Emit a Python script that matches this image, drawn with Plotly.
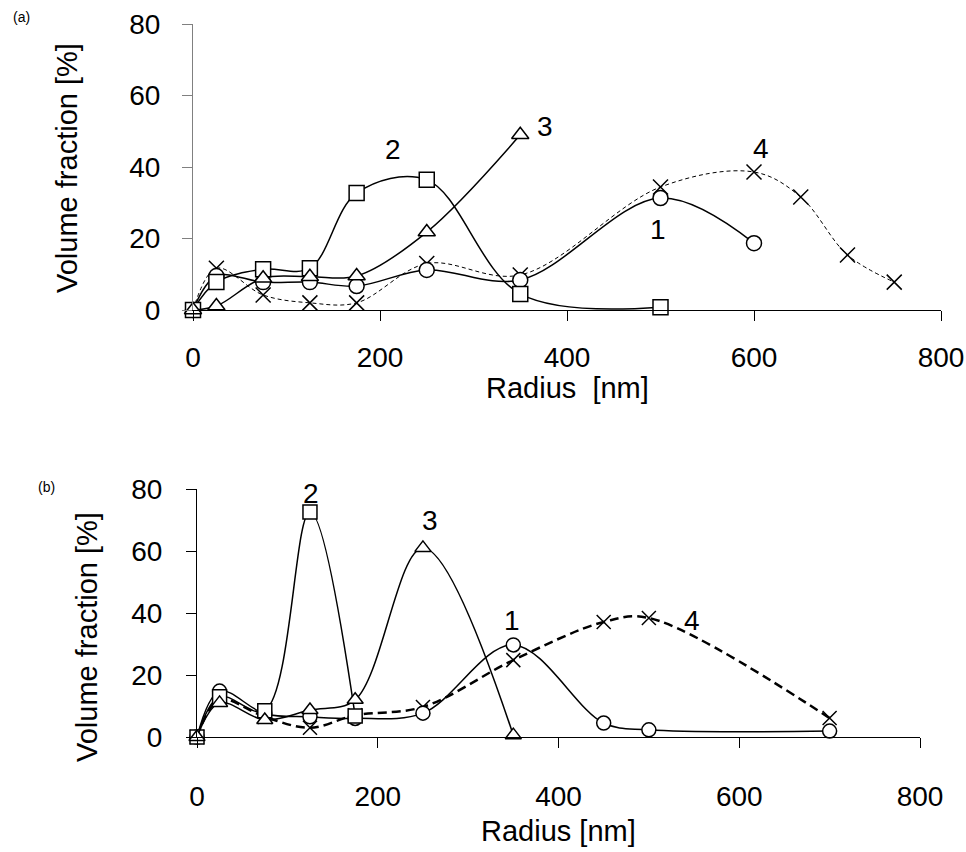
import plotly.graph_objects as go

# ---------------- Panel (a) data ----------------
a1_x = [0, 25, 75, 125, 175, 250, 350, 500, 600]
a1_y = [0, 9.5, 7.8, 7.8, 6.7, 11.2, 8.4, 31.3, 18.7]

a2_x = [0, 25, 75, 125, 175, 250, 350, 500]
a2_y = [0, 7.8, 11.4, 11.7, 32.7, 36.4, 4.5, 0.8]

a3_x = [0, 25, 75, 125, 175, 250, 350]
a3_y = [0, 1.1, 8.9, 9.3, 9.5, 21.8, 49.0]

a4_x = [0, 25, 75, 125, 175, 250, 350, 500, 600, 650, 700, 750]
a4_y = [0, 11.7, 4.2, 2.0, 2.0, 13.0, 9.8, 34.4, 38.6, 31.6, 15.4, 7.8]

# ---------------- Panel (b) data ----------------
b1_x = [0, 25, 75, 125, 175, 250, 350, 450, 500, 700]
b1_y = [0, 14.8, 7.5, 6.5, 6.0, 7.7, 29.7, 4.5, 2.3, 1.9]

b2_x = [0, 25, 75, 125, 175]
b2_y = [0, 13.0, 8.5, 72.6, 6.8]

b3_x = [0, 25, 75, 125, 175, 250, 350]
b3_y = [0, 11.0, 5.5, 8.7, 12.0, 61.0, 0.6]

b4_x = [0, 25, 75, 125, 175, 250, 350, 450, 500, 700]
b4_y = [0, 12.0, 6.5, 3.0, 7.0, 9.7, 24.8, 37.1, 38.4, 6.1]

x_ticks = [0, 200, 400, 600, 800]
y_ticks = [0, 20, 40, 60, 80]

# curve labels (text, x, y)
a_labels = [("1", 497, 22.4), ("2", 214, 44.8), ("3", 376, 51.2), ("4", 608, 45.3)]
b_labels = [("1", 348, 37.7), ("2", 126, 78.7), ("3", 258, 70.0), ("4", 548, 37.7)]

FONT = "Liberation Sans, Arial, sans-serif"
W, H = 966, 852

fig = go.Figure()


def add_series(x, y, symbol, xa, ya, dash="solid", lw=1.5, msize=14, mlw=1.5):
    if symbol == "x-thin":
        marker = dict(symbol=symbol, size=msize, color="black",
                      line=dict(color="black", width=mlw))
    else:
        marker = dict(symbol=symbol, size=msize, color="white",
                      line=dict(color="black", width=mlw))
    fig.add_trace(go.Scatter(
        x=x, y=y, mode="lines+markers", xaxis=xa, yaxis=ya,
        line=dict(color="black", width=lw, shape="spline", smoothing=1.0, dash=dash),
        marker=marker, cliponaxis=False, showlegend=False, hoverinfo="skip"))


# Panel (a)
add_series(a4_x, a4_y, "x-thin", "x", "y", dash="4px,3px", lw=1.0, msize=15)
add_series(a1_x, a1_y, "circle", "x", "y", msize=15)
add_series(a2_x, a2_y, "square", "x", "y", msize=15)
add_series(a3_x, a3_y, "triangle-up", "x", "y", msize=15)

# Panel (b)
add_series(b4_x, b4_y, "x-thin", "x2", "y2", dash="9px,5px", lw=2.5, msize=14)
add_series(b1_x, b1_y, "circle", "x2", "y2", msize=14)
add_series(b2_x, b2_y, "square", "x2", "y2", msize=14)
add_series(b3_x, b3_y, "triangle-up", "x2", "y2", msize=14)

tickfont = dict(family=FONT, size=28, color="black")


def xax(domain, anchor, standoff):
    return dict(domain=domain, anchor=anchor, range=[0, 800], tickvals=x_ticks,
                ticks="outside", ticklen=10, tickcolor="black", tickwidth=1,
                showline=True, linecolor="black", linewidth=1, showgrid=False,
                zeroline=False, tickfont=tickfont, ticklabelstandoff=standoff,
                automargin=False, fixedrange=True)


def yax(domain, anchor, color, standoff):
    return dict(domain=domain, anchor=anchor, range=[0, 80], tickvals=y_ticks,
                ticks="outside", ticklen=10, tickcolor=color, tickwidth=1,
                showline=True, linecolor=color, linewidth=1, showgrid=False,
                zeroline=False, tickfont=tickfont, ticklabelstandoff=standoff,
                automargin=False, fixedrange=True)


annotations = []
for t, x, y in a_labels:
    annotations.append(dict(text=t, x=x, y=y, xref="x", yref="y", showarrow=False,
                            font=dict(family=FONT, size=28, color="black")))
for t, x, y in b_labels:
    annotations.append(dict(text=t, x=x, y=y, xref="x2", yref="y2", showarrow=False,
                            font=dict(family=FONT, size=28, color="black")))


def px(xp, yp):
    return xp / W, 1 - yp / H


title_font = dict(family=FONT, size=29, color="black")
for text, (xp, yp), ang in [
    ("Volume fraction [%]", (67, 168), -90),
    ("Volume fraction [%]", (87, 637), -90),
    ("Radius  [nm]", (567, 388), 0),
    ("Radius [nm]", (558, 831), 0),
]:
    xx, yy = px(xp, yp)
    annotations.append(dict(text=text, x=xx, y=yy, xref="paper", yref="paper",
                            xanchor="center", yanchor="middle", showarrow=False,
                            textangle=ang, font=title_font))

for text, (xp, yp) in [("(a)", (21, 17)), ("(b)", (46, 487))]:
    xx, yy = px(xp, yp)
    annotations.append(dict(text=text, x=xx, y=yy, xref="paper", yref="paper",
                            xanchor="center", yanchor="middle", showarrow=False,
                            font=dict(family=FONT, size=14, color="black")))

fig.update_layout(
    width=W, height=H,
    margin=dict(l=0, r=0, t=0, b=0, pad=0, autoexpand=False),
    paper_bgcolor="white", plot_bgcolor="white",
    xaxis=xax([193 / W, 941 / W], "y", 12),
    yaxis=yax([1 - 310 / H, 1 - 24 / H], "x", "#808080", 16),
    xaxis2=xax([197 / W, 920 / W], "y2", 24),
    yaxis2=yax([1 - 737 / H, 1 - 489 / H], "x2", "black", 18),
    annotations=annotations,
    font=dict(family=FONT),
)

fig.write_html("out.html")
